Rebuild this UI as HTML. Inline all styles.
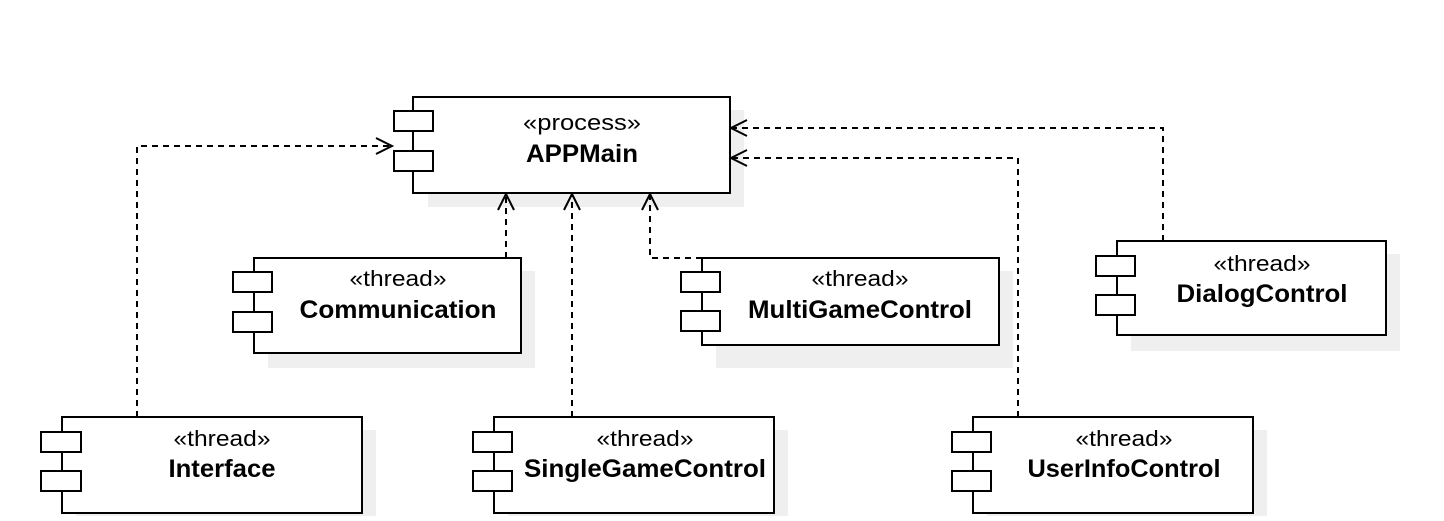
<!DOCTYPE html>
<html><head><meta charset="utf-8"><style>
html,body{margin:0;padding:0;background:#fff;}
svg text{font-family:"Liberation Sans",Arial,sans-serif;fill:#000;}
.s{font-size:22px;}
.n{font-size:25px;font-weight:bold;}
</style></head><body>
<svg width="1444" height="516" viewBox="0 0 1444 516" xmlns="http://www.w3.org/2000/svg">
<g fill="#efefef">
<rect x="428" y="110" width="316" height="97"/>
<rect x="268" y="271" width="267" height="97"/>
<rect x="716" y="271" width="297" height="97"/>
<rect x="1131" y="254" width="269" height="97"/>
<rect x="76" y="430" width="300" height="97"/>
<rect x="508" y="430" width="280" height="97"/>
<rect x="987" y="430" width="280" height="97"/>
</g>
<g fill="#fff" stroke="#000" stroke-width="2">
<rect x="413" y="97" width="317" height="96"/>
<rect x="394" y="111" width="39" height="20"/><rect x="394" y="151" width="39" height="20"/>
<rect x="254" y="258" width="267" height="95"/>
<rect x="233" y="272" width="39" height="20"/><rect x="233" y="312" width="39" height="20"/>
<rect x="702" y="258" width="297" height="87"/>
<rect x="681" y="272" width="39" height="20"/><rect x="681" y="311" width="39" height="20"/>
<rect x="1117" y="241" width="269" height="94"/>
<rect x="1096" y="256" width="39" height="20"/><rect x="1096" y="295" width="39" height="20"/>
<rect x="62" y="417" width="300" height="96"/>
<rect x="41" y="432" width="40" height="20"/><rect x="41" y="471" width="40" height="20"/>
<rect x="494" y="417" width="280" height="96"/>
<rect x="473" y="432" width="39" height="20"/><rect x="473" y="471" width="39" height="20"/>
<rect x="973" y="417" width="280" height="96"/>
<rect x="952" y="432" width="39" height="20"/><rect x="952" y="471" width="39" height="20"/>
</g>
<g text-anchor="middle">
<text class="s" x="582" y="130" textLength="118" lengthAdjust="spacingAndGlyphs">«process»</text><text class="n" x="582" y="162" textLength="112" lengthAdjust="spacingAndGlyphs">APPMain</text>
<text class="s" x="398" y="286" textLength="97" lengthAdjust="spacingAndGlyphs">«thread»</text><text class="n" x="398" y="318" textLength="197" lengthAdjust="spacingAndGlyphs">Communication</text>
<text class="s" x="860" y="286" textLength="97" lengthAdjust="spacingAndGlyphs">«thread»</text><text class="n" x="860" y="318" textLength="224" lengthAdjust="spacingAndGlyphs">MultiGameControl</text>
<text class="s" x="1262" y="271" textLength="97" lengthAdjust="spacingAndGlyphs">«thread»</text><text class="n" x="1262" y="302" textLength="171" lengthAdjust="spacingAndGlyphs">DialogControl</text>
<text class="s" x="222" y="446" textLength="97" lengthAdjust="spacingAndGlyphs">«thread»</text><text class="n" x="222" y="477" textLength="107" lengthAdjust="spacingAndGlyphs">Interface</text>
<text class="s" x="645" y="446" textLength="97" lengthAdjust="spacingAndGlyphs">«thread»</text><text class="n" x="645" y="477" textLength="242" lengthAdjust="spacingAndGlyphs">SingleGameControl</text>
<text class="s" x="1124" y="446" textLength="97" lengthAdjust="spacingAndGlyphs">«thread»</text><text class="n" x="1124" y="477" textLength="193" lengthAdjust="spacingAndGlyphs">UserInfoControl</text>
</g>
<g fill="none" stroke="#000" stroke-width="2" stroke-dasharray="6,5">
<polyline points="137,417 137,146 390,146"/>
<polyline points="506,258 506,196"/>
<polyline points="572,417 572,196"/>
<polyline points="702,258 650,258 650,196"/>
<polyline points="1163,241 1163,128 733,128"/>
<polyline points="1018,417 1018,158 733,158"/>
</g>
<g fill="none" stroke="#000" stroke-width="2">
<polyline points="376,138 392,146 376,154"/>
<polyline points="498,210 506,194 514,210"/>
<polyline points="564,210 572,194 580,210"/>
<polyline points="642,210 650,194 658,210"/>
<polyline points="747,120 731,128 747,136"/>
<polyline points="747,150 731,158 747,166"/>
</g>
</svg>
</body></html>
